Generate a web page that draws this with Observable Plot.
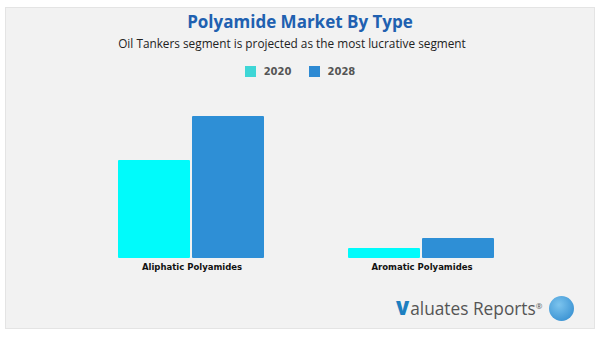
<!DOCTYPE html>
<html>
<head>
<meta charset="utf-8">
<script src="https://cdn.jsdelivr.net/npm/d3@7"></script>
<script src="https://cdn.jsdelivr.net/npm/@observablehq/plot@0.6"></script>
<style>
  html, body { margin: 0; padding: 0; background: #ffffff; }
  #page { position: relative; width: 600px; height: 338px; overflow: hidden; font-family: "Open Sans", "Noto Sans", sans-serif; }
  #panel { position: absolute; left: 5px; top: 7px; width: 588px; height: 320px; background: #f2f2f2; border: 1px solid #e4e4e4; }
  #title { position: absolute; left: 0; width: 600px; top: 10px; text-align: center; font-size: 17px; font-weight: 700; color: #2060b0; }
  #subtitle { position: absolute; left: 0; width: 584px; top: 35px; text-align: center; font-size: 11.8px; color: #222; }
  #legend { position: absolute; left: 0; width: 600px; top: 66px; display: flex; justify-content: center; gap: 17px; font-family: "DejaVu Sans", sans-serif; font-size: 10px; font-weight: 700; color: #555; }
  .item { display: flex; align-items: center; gap: 8px; }
  .sw { width: 11px; height: 11px; display: inline-block; }
  #chart { position: absolute; left: 0; top: 90px; }
  #logo { position: absolute; left: 396px; top: 295px; font-size: 17.3px; color: #555; display: flex; align-items: center; }
  #logo .v { color: #1d7fc0; font-weight: 800; font-size: 19px; margin-right: 1px; }
  #logo sup { font-size: 8px; vertical-align: top; position: relative; top: -3px; }
  #icon { width: 25px; height: 25px; border-radius: 50%; background: radial-gradient(circle at 40% 35%, #7cc4ee, #2a86cc); margin-left: 7px; }
</style>
</head>
<body>
<div id="page">
  <div id="panel"></div>
  <div id="title">Polyamide Market By Type</div>
  <div id="subtitle">Oil Tankers segment is projected as the most lucrative segment</div>
  <div id="legend"></div>
  <div id="chart"></div>
  <div id="logo"><span class="v">V</span>aluates Reports<sup>®</sup><div id="icon"></div></div>
</div>
<script>
const categories = ["Aliphatic Polyamides", "Aromatic Polyamides"];
const years = ["2020", "2028"];
const values2020 = [9.8, 1.0];
const values2028 = [14.2, 2.0];
const barColors = ["#00fbfb", "#2e8fd6"];
const swatchColors = ["#3ed6d6", "#2e8ad3"];

const data = [];
categories.forEach((c, i) => {
  data.push({category: c, year: years[0], value: values2020[i]});
  data.push({category: c, year: years[1], value: values2028[i]});
});

const legend = document.getElementById("legend");
years.forEach((y, i) => {
  const it = document.createElement("div");
  it.className = "item";
  it.innerHTML = `<span class="sw" style="background:${swatchColors[i]}"></span><span>${y}</span>`;
  legend.appendChild(it);
});

const chart = Plot.plot({
  width: 600,
  height: 200,
  marginTop: 26,
  marginBottom: 32,
  marginLeft: 77,
  marginRight: 63,
  style: {background: "transparent", fontFamily: "DejaVu Sans, sans-serif"},
  fx: {domain: categories, paddingInner: 0.36, paddingOuter: 0.18, label: null},
  x: {domain: years, paddingInner: 0.025, paddingOuter: 0, axis: null},
  y: {domain: [0, 14.2], axis: null},
  color: {domain: years, range: barColors},
  marks: [
    Plot.barY(data, {fx: "category", x: "year", y: "value", fill: "year", rx: 1}),
    Plot.axisFx({anchor: "bottom", tickSize: 0, tickPadding: 5, fontSize: 8.5, fontWeight: "bold", fill: "#111", label: null})
  ]
});
document.getElementById("chart").appendChild(chart);
</script>
</body>
</html>
